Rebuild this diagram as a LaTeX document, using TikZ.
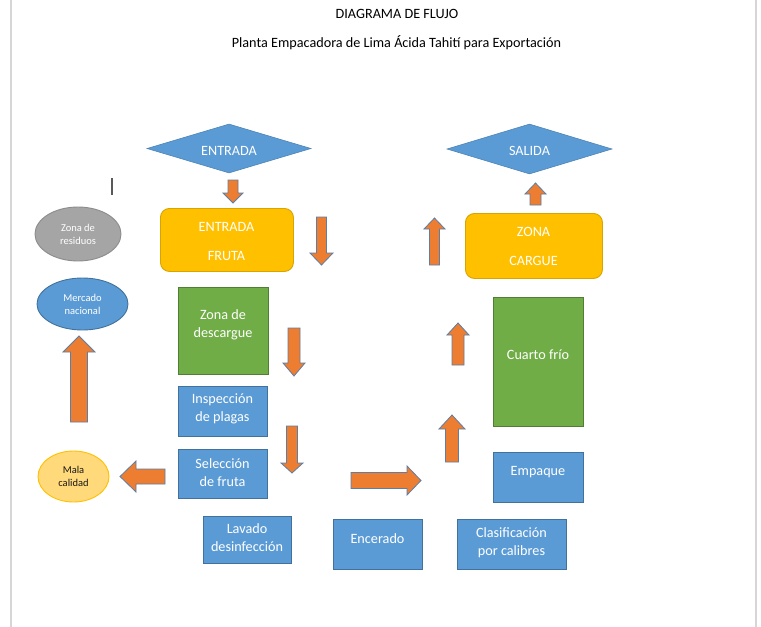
\documentclass[tikz,border=0pt]{standalone}
\usepackage{fontspec}
\setmainfont{Carlito}
\usetikzlibrary{shapes.geometric}
\definecolor{boxblue}{HTML}{5B9BD5}
\definecolor{boxblueline}{HTML}{41719C}
\definecolor{boxgreen}{HTML}{70AD47}
\definecolor{boxgreenline}{HTML}{507E32}
\definecolor{boxyellow}{HTML}{FFC000}
\definecolor{boxyellowline}{HTML}{D9A300}
\definecolor{boxgray}{HTML}{A5A5A5}
\definecolor{boxgrayline}{HTML}{8C8C8C}
\definecolor{lightorange}{HTML}{FFD97A}
\definecolor{arrowfill}{HTML}{ED7D31}
\definecolor{arrowline}{HTML}{5A7FA8}
\definecolor{pageline}{HTML}{D6D6D6}
\newcommand\varr[6]{% cx, tail y, tip y, shaft half, head half, head-start y
  \draw[barrow] (#1-#4,#2) -- (#1+#4,#2) -- (#1+#4,#6) -- (#1+#5,#6) -- (#1,#3)
    -- (#1-#5,#6) -- (#1-#4,#6) -- cycle;}
\newcommand\harr[6]{% cy, tail x, tip x, shaft half, head half, head-start x
  \draw[barrow] (#2,#1-#4) -- (#6,#1-#4) -- (#6,#1-#5) -- (#3,#1) -- (#6,#1+#5)
    -- (#6,#1+#4) -- (#2,#1+#4) -- cycle;}
\begin{document}
\begin{tikzpicture}[x=1pt,y=-1pt,
  barrow/.style={fill=arrowfill, draw=arrowline, line width=0.8pt, line join=miter},
  bluebox/.style={rectangle, draw=boxblueline, fill=boxblue, line width=0.9pt, anchor=north west, inner sep=0pt},
  greenbox/.style={rectangle, draw=boxgreenline, fill=boxgreen, line width=0.9pt, anchor=north west, inner sep=0pt},
  yellowbox/.style={rectangle, rounded corners=9pt, draw=boxyellowline, fill=boxyellow, line width=0.9pt, anchor=north west, inner sep=0pt},
  boxtext/.style={text=white, align=center, inner sep=0pt, font=\fontsize{14.2}{18}\selectfont},
  ovaltext/.style={ellipse, align=center, inner sep=0pt, line width=0.9pt, font=\fontsize{10.5}{13}\selectfont},
  diam/.style={diamond, fill=boxblue, draw=boxblue!85!black, line width=0.6pt, inner sep=0pt},
  titletext/.style={text=black, inner sep=0pt, font=\fontsize{14.2}{17}\selectfont}
]
\useasboundingbox (0,0) rectangle (761,627);
\fill[white] (0,0) rectangle (761,627);
% page edges
\draw[pageline, line width=2pt] (11,0) -- (11,627);
\draw[pageline, line width=2pt] (756,0) -- (756,627);
% titles
\node[titletext] (title) at (397,14) {DIAGRAMA DE FLUJO};
\node[titletext] (subtitle) at (396.5,43) {Planta Empacadora de Lima Ácida Tahití para Exportación};
% cursor mark
\draw[black!65, line width=1.2pt] (112,178) -- (112,195);
% diamonds
\node[diam, minimum width=164pt, minimum height=49pt] (entrada) at (229,148.5) {};
\node[boxtext] (entradaT) at (229,151) {ENTRADA};
\node[diam, minimum width=165pt, minimum height=50pt] (salida) at (529.5,149) {};
\node[boxtext] (salidaT) at (529.5,151) {SALIDA};
% ovals
\node[ovaltext, fill=boxgray, draw=boxgrayline, text=white, minimum width=86pt, minimum height=54pt] (residuos) at (78,234) {Zona de\\residuos};
\node[ovaltext, fill=boxblue, draw=boxblueline, text=white, minimum width=91pt, minimum height=52pt] (mercado) at (82.5,304) {Mercado\\nacional};
\node[ovaltext, fill=lightorange, draw=boxyellow, text=black!90, minimum width=71pt, minimum height=51pt] (mala) at (73.5,476.5) {Mala\\calidad};
% yellow rounded boxes
\node[yellowbox, minimum width=133pt, minimum height=63pt] (fruta) at (160,208) {};
\node[boxtext, font=\fontsize{14.2}{17}\selectfont] (frutaT) at (226.5,241.5) {ENTRADA\\[12pt]FRUTA};
\node[yellowbox, minimum width=137pt, minimum height=65pt] (cargue) at (465,213) {};
\node[boxtext, font=\fontsize{14.2}{17}\selectfont] (cargueT) at (533.5,246.5) {ZONA\\[12pt]CARGUE};
% green boxes
\node[greenbox, minimum width=90pt, minimum height=87pt] (descargue) at (178,287) {};
\node[boxtext] (descargueT) at (223,325) {Zona de\\descargue};
\node[greenbox, minimum width=90pt, minimum height=129pt] (frio) at (493,297) {};
\node[boxtext] (frioT) at (538,355) {Cuarto frío};
% blue boxes
\node[bluebox, minimum width=89pt, minimum height=50pt] (insp) at (178,386) {};
\node[boxtext] (inspT) at (222.5,409) {Inspección\\de plagas};
\node[bluebox, minimum width=89pt, minimum height=49pt] (sel) at (178,449) {};
\node[boxtext] (selT) at (222.5,472.5) {Selección\\de fruta};
\node[bluebox, minimum width=88pt, minimum height=47pt] (lavado) at (203,516) {};
\node[boxtext] (lavadoT) at (247,538) {Lavado\\desinfección};
\node[bluebox, minimum width=89pt, minimum height=50pt] (encerado) at (333,519) {};
\node[boxtext] (enceradoT) at (377.5,539) {Encerado};
\node[bluebox, minimum width=109pt, minimum height=50pt] (clasif) at (457,519) {};
\node[boxtext] (clasifT) at (511.5,542.5) {Clasificación\\por calibres};
\node[bluebox, minimum width=90pt, minimum height=50pt] (empaque) at (493,452) {};
\node[boxtext] (empaqueT) at (538,472) {Empaque};
% block arrows
\varr{233}{180}{203}{5}{10}{193}
\varr{321.5}{217}{265}{5}{11.5}{253}
\varr{294}{328}{376}{6}{11}{363}
\varr{292}{426}{473}{5.5}{11}{463}
\harr{476.5}{165}{120}{7.5}{15.5}{136}
\varr{79}{422}{336}{8.5}{16}{352}
\harr{480.5}{351}{421}{8}{14.5}{407}
\varr{452}{462}{415}{6.5}{13}{429}
\varr{458}{365}{323}{6}{11}{335}
\varr{434.5}{265}{218}{5}{10.5}{229}
\varr{535.5}{205}{183}{5.5}{10.5}{194}
\end{tikzpicture}
\end{document}
